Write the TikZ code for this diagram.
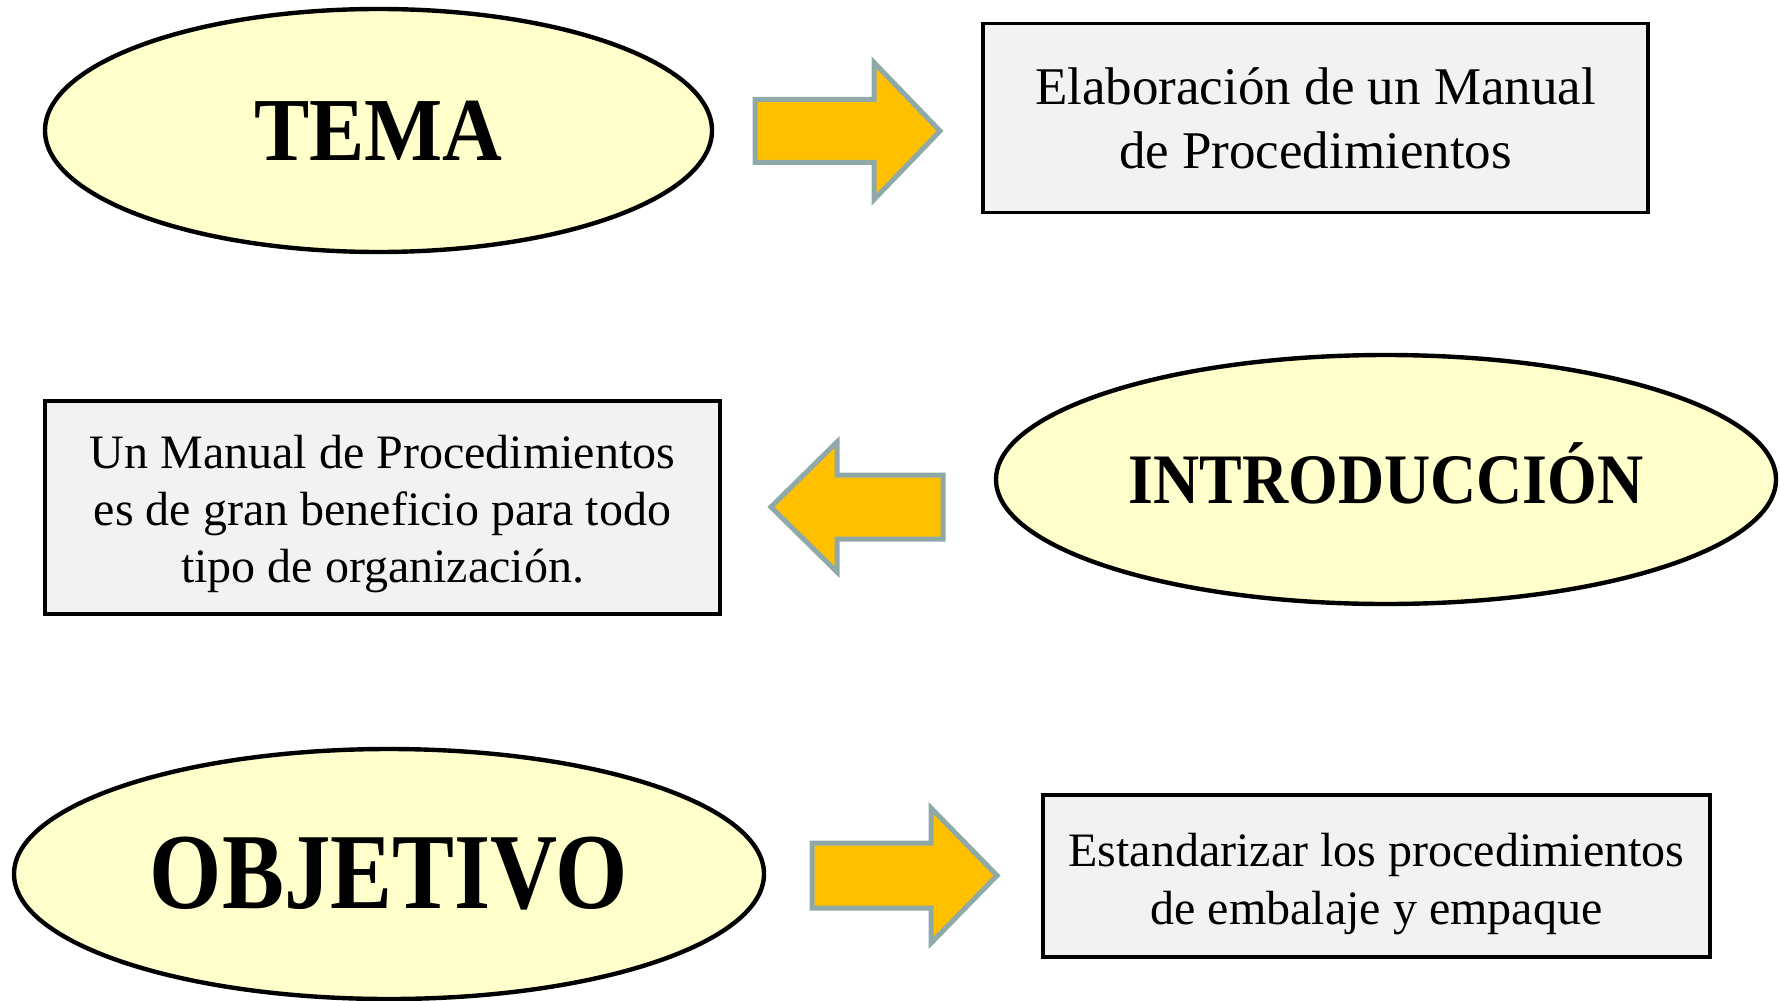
\documentclass[tikz,border=0pt]{standalone}
\usepackage{fontspec}
\setmainfont{Liberation Serif}
\usepackage{graphicx}
\usepackage{tikz}
\usetikzlibrary{positioning,shapes.geometric}

\definecolor{ovalfill}{HTML}{FFFFCC}
\definecolor{boxfill}{HTML}{F2F2F2}
\definecolor{arrowfill}{HTML}{FFC000}
\definecolor{arrowline}{HTML}{8FA9A9}

\tikzset{
  oval/.style={ellipse, draw=black, line width=2.2pt, fill=ovalfill, inner sep=0pt},
  textbox/.style={rectangle, draw=black, line width=1.8pt, fill=boxfill, inner sep=0pt},
  boxtext/.style={inner sep=0pt, align=center},
  blockarrow/.style={draw=arrowline, line width=2.5pt, fill=arrowfill, line join=miter},
  titulo/.style={font=\bfseries\fontsize{#1}{#1}\selectfont}
}

\begin{document}
\begin{tikzpicture}[x=0.5pt, y=-0.5pt]
  \useasboundingbox (0,0) rectangle (1780,1000);

  % fila 1
  \node[oval, titulo=45pt, minimum width=333.5pt, minimum height=121.5pt] (tema) at (378.5,130.5)
    {\scalebox{0.92}[1]{TEMA}};
  \node[textbox, minimum width=332.5pt, minimum height=94.5pt] (elab) at (1315.5,118) {};
  \node[boxtext, font=\fontsize{26.5}{32}\selectfont] (elab-t) at (elab)
    {Elaboración de un Manual\\de Procedimientos};
  \coordinate (f1) at (755,130.5);
  \draw[blockarrow] (f1) ++(0,-31) -- ++(119,0) -- ++(0,-37) -- ++(66,68.5) -- ++(-66,68.5) -- ++(0,-37) -- ++(-119,0) -- cycle;

  % fila 2
  \node[oval, titulo=35.5pt, minimum width=390pt, minimum height=124.5pt] (intro) at (1386,479.5)
    {\scalebox{0.9}[1]{\raisebox{6pt}{INTRODUCCIÓN}}};
  \node[textbox, minimum width=337.5pt, minimum height=106.5pt] (manual) at (382.5,507.5) {};
  \node[boxtext, font=\fontsize{24}{28.5}\selectfont, yshift=-3.5pt] (manual-t) at (manual)
    {Un Manual de Procedimientos\\es de gran beneficio para todo\\tipo de organización.};
  \coordinate (f2) at (943,507);
  \draw[blockarrow] (f2) ++(0,-32) -- ++(-106,0) -- ++(0,-33) -- ++(-66,65) -- ++(66,65) -- ++(0,-33) -- ++(106,0) -- cycle;

  % fila 3
  \node[oval, titulo=54pt, minimum width=375pt, minimum height=125pt] (obj) at (389,874)
    {\scalebox{0.86}[1]{OBJETIVO}};
  \node[textbox, minimum width=333.5pt, minimum height=81pt] (estand) at (1376.5,876) {};
  \node[boxtext, font=\fontsize{24}{29}\selectfont, yshift=-4pt] (estand-t) at (estand)
    {Estandarizar los procedimientos\\de embalaje y empaque};
  \coordinate (f3) at (812,875.5);
  \draw[blockarrow] (f3) ++(0,-32.5) -- ++(119,0) -- ++(0,-35) -- ++(66,67.5) -- ++(-66,67.5) -- ++(0,-35) -- ++(-119,0) -- cycle;
\end{tikzpicture}
\end{document}
